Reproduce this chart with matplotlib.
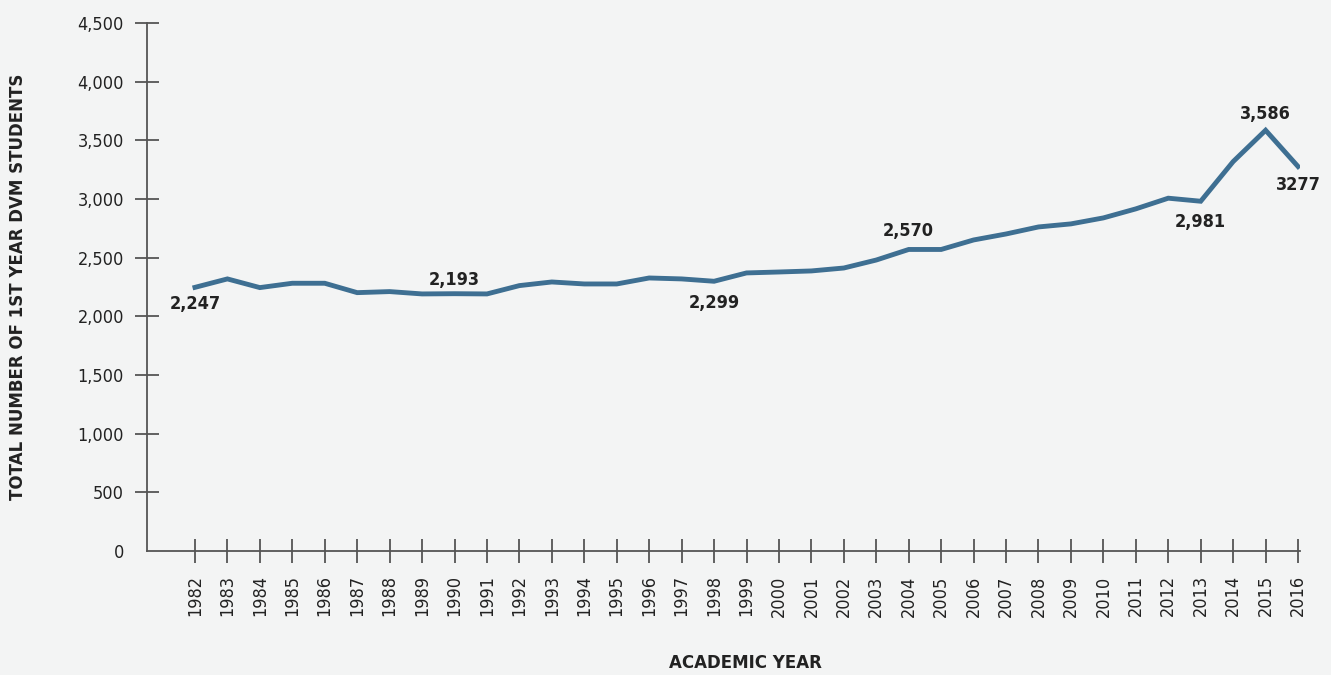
import matplotlib.pyplot as plt

# Data
years = list(range(1982, 2017))
students = [2247, 2319, 2245, 2282, 2282, 2202, 2211, 2191, 2193, 2191,
            2262, 2293, 2276, 2276, 2327, 2319, 2299, 2370, 2378, 2387,
            2412, 2480, 2570, 2570, 2651, 2702, 2762, 2788, 2839, 2916,
            3007, 2981, 3319, 3586, 3277]

# labelled points: year, text, offset in points
label_years = [1982, 1990, 1998, 2004, 2013, 2015, 2016]
label_texts = ['2,247', '2,193', '2,299', '2,570', '2,981', '3,586', '3277']
label_dy = [-12, 10, -16, 13, -15, 12, -13]

bg = '#f3f4f4'
line_col = '#3e6f92'
axis_col = '#555555'
text_col = '#222222'

plt.rcParams['font.family'] = ['DejaVu Sans']

fig = plt.figure(figsize=(13.31, 6.75), dpi=100, facecolor=bg)
ax = fig.add_axes([0.1104, 0.1837, 0.8663, 0.7822])
ax.set_facecolor(bg)

ax.plot(years, students, color=line_col, lw=3.5, solid_joinstyle='miter')

for yr, txt, dy in zip(label_years, label_texts, label_dy):
    val = students[years.index(yr)]
    ax.annotate(txt, (yr, val), xytext=(0, dy), textcoords='offset points',
                ha='center', va='center', fontsize=13, fontweight='bold',
                color=text_col, fontstretch='condensed')

ax.set_xlim(1980.52, 2016.06)
ax.set_ylim(0, 4500)
ax.set_yticks(range(0, 4501, 500))
ax.set_yticklabels(['{:,}'.format(v) for v in range(0, 4501, 500)])
ax.set_xticks(years)
ax.set_xticklabels([str(y) for y in years], rotation=90)

for s in ['top', 'right']:
    ax.spines[s].set_visible(False)
for s in ['left', 'bottom']:
    ax.spines[s].set_color(axis_col)
    ax.spines[s].set_linewidth(1.3)

ax.tick_params(axis='y', direction='inout', length=17, width=1.3, color=axis_col,
               labelsize=13, labelcolor=text_col, pad=8)
ax.tick_params(axis='x', direction='inout', length=17, width=1.3, color=axis_col,
               labelsize=13, labelcolor=text_col, pad=9)
for lab in ax.get_xticklabels() + ax.get_yticklabels():
    lab.set_fontstretch('condensed')
# no tick mark at zero on the y axis
ax.yaxis.get_major_ticks()[0].tick1line.set_visible(False)

fig.text(0.0135, 0.575, 'TOTAL NUMBER OF 1ST YEAR DVM STUDENTS', rotation=90,
         ha='center', va='center', fontsize=12, fontweight='bold', color=text_col)
fig.text(0.56, 0.018, 'ACADEMIC YEAR', ha='center', va='center',
         fontsize=12, fontweight='bold', color=text_col)

fig.savefig('out.png', dpi=100, facecolor=bg)
